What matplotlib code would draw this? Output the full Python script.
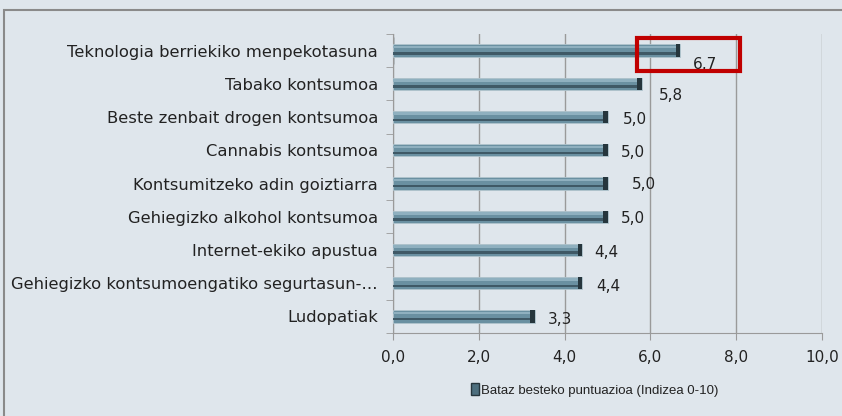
import numpy as np
import matplotlib.pyplot as plt
from matplotlib.patches import Rectangle

categories = [
    "Teknologia berriekiko menpekotasuna",
    "Tabako kontsumoa",
    "Beste zenbait drogen kontsumoa",
    "Cannabis kontsumoa",
    "Kontsumitzeko adin goiztiarra",
    "Gehiegizko alkohol kontsumoa",
    "Internet-ekiko apustua",
    "Gehiegizko kontsumoengatiko segurtasun-\u2026",
    "Ludopatiak",
]
scores = [6.7, 5.8, 5.0, 5.0, 5.0, 5.0, 4.4, 4.4, 3.3]
labels = ["6,7", "5,8", "5,0", "5,0", "5,0", "5,0", "4,4", "4,4", "3,3"]
xticks = [0, 2, 4, 6, 8, 10]
series_name = "Bataz besteko puntuazioa (Indizea 0-10)"

# label offsets in pixels (dx, dy) from each bar end
label_off = [(13, -14), (17, -12), (15, -2), (13, -2), (24, -1), (13, -2), (12, -3), (14, -3), (13, -3)]

bg = "#dfe6ec"
plt.rcParams['font.family'] = ['DejaVu Sans']
fs = 11

fig = plt.figure(figsize=(8.42, 4.16), dpi=100, facecolor=bg)
ax = fig.add_axes([393.3 / 842, 1 - 333 / 416, (821.7 - 393.3) / 842, (333 - 34) / 416])
ax.set_facecolor(bg)

y = np.arange(len(categories))
h = 0.37
# bevelled bars: body, light top band, dark lower band, dark end cap
ax.barh(y, scores, height=h, color="#6a90a1", edgecolor="#b0c4cd", linewidth=0.6, zorder=3)
ax.barh(y - h * 0.28, scores, height=h * 0.2, color="#8fb0bf", linewidth=0, zorder=4)
ax.barh(y + h * 0.22, scores, height=h * 0.2, color="#3f5966", linewidth=0, zorder=4)
ax.barh(y, [0.1] * len(scores), left=[s - 0.1 for s in scores], height=h,
        color="#26363d", linewidth=0, zorder=5)

for i, (v, t) in enumerate(zip(scores, labels)):
    ax.annotate(t, (v, i), xytext=label_off[i], textcoords="offset pixels",
                ha="left", va="center", fontsize=fs, color="#222222", zorder=6)

ax.set_xlim(0, 10)
ax.set_ylim(len(categories) - 0.5, -0.5)
ax.set_xticks(xticks)
ax.set_xticklabels([f"{v:.1f}".replace(".", ",") for v in xticks], fontsize=fs, color="#222222")
ax.set_yticks(y)
ax.set_yticklabels(categories, fontsize=11.8, color="#222222")
ax.set_yticks(np.arange(len(categories) + 1) - 0.5, minor=True)
ax.tick_params(axis="y", which="major", length=0, pad=11)
ax.tick_params(axis="y", which="minor", length=5, color="#9a9a9a")
ax.tick_params(axis="x", length=5, color="#9a9a9a", pad=7)
ax.grid(axis="x", color="#9a9a9a", linewidth=1, zorder=0)
for s in ["top", "right"]:
    ax.spines[s].set_visible(False)
for s in ["left", "bottom"]:
    ax.spines[s].set_color("#9a9a9a")

# highlight box around the top value
ax.add_patch(Rectangle((5.69, -0.39), 2.4, 0.99, fill=False, edgecolor="#c00000",
                       linewidth=3, zorder=7, clip_on=False))

h_leg = ax.barh([0], [0], color="#4d6f7e", edgecolor="#26363d")
fig.legend([h_leg], [series_name], loc="center", bbox_to_anchor=(595 / 842, 1 - 390 / 416),
           frameon=False, prop={"family": "Liberation Sans", "size": 9.5},
           handlelength=0.55, handleheight=1.0, handletextpad=0.2, labelcolor="#222222")

# outer chart frame
fig.patches.append(Rectangle((4 / 842, -0.1), 1.2, 1 - 10 / 416 + 0.1, transform=fig.transFigure,
                             fill=False, edgecolor="#8a8a8a", linewidth=1.5))

fig.savefig("out.png", dpi=100, facecolor=bg)
